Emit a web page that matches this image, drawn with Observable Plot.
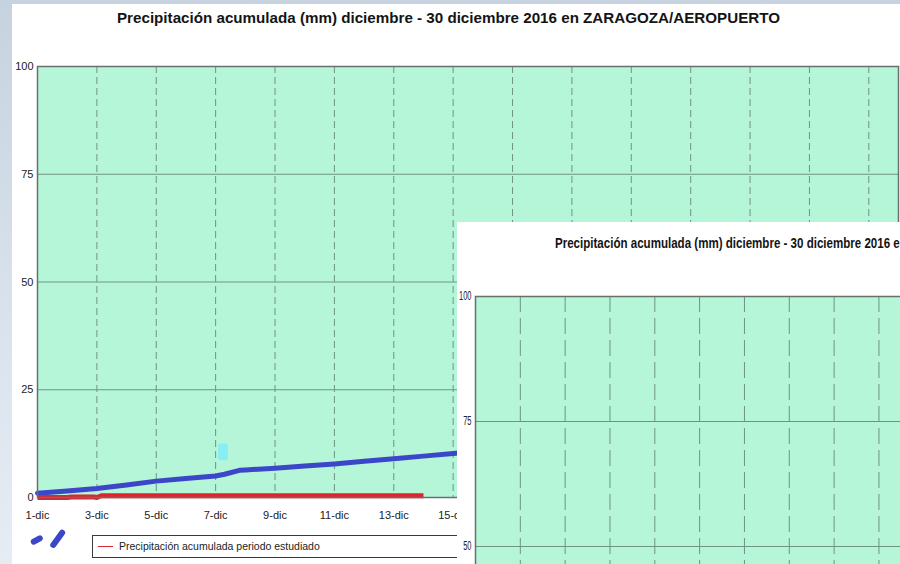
<!DOCTYPE html>
<html>
<head>
<meta charset="utf-8">
<script src="https://cdn.jsdelivr.net/npm/d3@7"></script>
<script src="https://cdn.jsdelivr.net/npm/@observablehq/plot@0.6"></script>
<style>
html, body { margin: 0; padding: 0; }
body {
  width: 900px; height: 564px; overflow: hidden; position: relative;
  background: linear-gradient(180deg, #c6d2df 0%, #d9e2ec 55%, #e6ecf3 100%);
  font-family: "Liberation Sans", Arial, sans-serif;
}
#panel { position: absolute; left: 12px; top: 4px; width: 888px; height: 560px; background: #fff; }
.title { position: absolute; white-space: nowrap; font-weight: bold; color: #141414; transform-origin: 0 50%; }
#mainTitle { left: 117px; top: 10px; font-size: 14px; }
#mainChart { position: absolute; left: 0; top: 50px; }
#legend {
  position: absolute; left: 92px; top: 535px; width: 420px; height: 21px;
  border: 1px solid #3a3a3a; background: #fff;
}
#legend .swatch { position: absolute; left: 5px; top: 10px; width: 15px; height: 0; border-top: 1.5px solid #d8262c; }
#legend .txt { position: absolute; left: 26px; top: 4px; font-size: 10.5px; color: #222; white-space: nowrap; }
#overlay { position: absolute; left: 457px; top: 222px; width: 443px; height: 342px; background: #fff; overflow: hidden; }
#ovTitle { left: 98px; top: 12px; font-size: 15px; }
#ovChart { position: absolute; left: 0; top: 0; }
</style>
</head>
<body>
<div id="panel"></div>
<div id="mainTitle" class="title"></div>
<div id="mainChart"></div>
<div id="legend"><div class="swatch"></div><div class="txt"></div></div>
<div id="overlay">
  <div id="ovTitle" class="title"></div>
  <div id="ovChart"></div>
</div>
<script>
// ---- Data ----
const titleText = "Precipitación acumulada (mm) diciembre - 30 diciembre 2016 en ZARAGOZA/AEROPUERTO";
const legendLabel = "Precipitación acumulada periodo estudiado";

const xDomain = [1, 30];
const tickDays = [1, 3, 5, 7, 9, 11, 13, 15, 17, 19, 21, 23, 25, 27, 29];
const xTickLabels = ["1-dic", "3-dic", "5-dic", "7-dic", "9-dic", "11-dic", "13-dic", "15-dic",
                     "17-dic", "19-dic", "21-dic", "23-dic", "25-dic", "27-dic", "29-dic"];
const gridDays = [3, 5, 7, 9, 11, 13, 15, 17, 19, 21, 23, 25, 27, 29];
const yTicks = [0, 25, 50, 75, 100];
const yGrid = [25, 50, 75];

// blue (hand-drawn) accumulated line
const blueDays   = [1,   2,   3,   4,   5,   6,   7,   7.3, 7.8, 8,   9,   10,  11,  12,  13,  14,  15,   15.5];
const blueValues = [1.0, 1.5, 2.1, 2.9, 3.8, 4.4, 5.0, 5.4, 6.3, 6.4, 6.8, 7.3, 7.8, 8.4, 9.0, 9.6, 10.2, 10.5];

// red: accumulated precipitation of the studied period
const redDays   = [1, 2,   2.15, 2.9, 3.0, 3.15, 14];
const redValues = [0, 0,   0.1,  0.1, 0,   0.4,  0.4];

// hand-drawn annotations (cyan patch, two blue strokes below the axis), in day / mm units
const patchDay = [7.1, 7.43];
const patchMm = [8.5, 12.4];
const strokeA = {days: [0.875, 1.077], mm: [-10.25, -9.47]};
const strokeB = {days: [1.53, 1.83], mm: [-11.0, -8.17]};

// ---- Styling ----
const mint = "#b5f6d9";
const gridColor = "#6f9384";
const blueColor = "#3b47c8";
const redColor = "#e3222b";

const blueData = blueDays.map((d, i) => ({day: d, mm: blueValues[i]}));
const redData = redDays.map((d, i) => ({day: d, mm: redValues[i]}));
const strokeData = [strokeA, strokeB].flatMap((s, k) => s.days.map((d, i) => ({k, day: d, mm: s.mm[i]})));
const patchData = [{x1: patchDay[0], x2: patchDay[1], y1: patchMm[0], y2: patchMm[1]}];
const fmt = d => xTickLabels[tickDays.indexOf(d)];

function makeChart(o) {
  const svg = Plot.plot({
    width: o.width, height: o.height,
    marginLeft: o.ml, marginRight: o.mr, marginTop: o.mt, marginBottom: o.mb,
    style: {fontFamily: '"Liberation Sans", Arial, sans-serif', fontSize: o.fs, color: "#222", background: "transparent", overflow: "visible"},
    x: {domain: xDomain, ticks: tickDays, tickFormat: fmt, tickSize: 0, tickPadding: o.xpad, label: null},
    y: {domain: [0, 100], ticks: yTicks, tickSize: 0, tickPadding: o.ypad, label: null},
    marks: [
      Plot.frame({fill: mint, stroke: "none"}),
      Plot.ruleY(yGrid, {stroke: gridColor, strokeWidth: 1}),
      Plot.ruleX(gridDays, {stroke: gridColor, strokeWidth: 1, strokeDasharray: o.dash}),
      o.annot ? Plot.rect(patchData, {x1: "x1", x2: "x2", y1: "y1", y2: "y2", fill: "#86eef4", rx: 2}) : null,
      Plot.line(blueData, {x: "day", y: "mm", stroke: blueColor, strokeWidth: 5, strokeLinecap: "round"}),
      Plot.line(redData, {x: "day", y: "mm", stroke: redColor, strokeWidth: 5, strokeLinecap: "butt"}),
      Plot.frame({stroke: "#6a6f6c", strokeWidth: 1.5}),
      o.annot ? Plot.line(strokeData, {x: "day", y: "mm", z: "k", stroke: blueColor, strokeWidth: 6, strokeLinecap: "round"}) : null
    ]
  });
  svg.style.maxWidth = "none";
  return svg;
}

document.getElementById("mainChart").append(makeChart({
  width: 900, height: 477, ml: 37, mr: 2, mt: 16, mb: 30, fs: "11px", xpad: 14, ypad: 4, dash: "7,4", annot: true
}));
const ov = makeChart({
  width: 670, height: 604, ml: 18, mr: 2, mt: 74, mb: 30, fs: "12px", xpad: 12, ypad: 4, dash: "16,6", annot: false
});
document.getElementById("ovChart").append(ov);
// condensed look of the overlay's tick labels
d3.select(ov).selectAll("text").each(function() {
  const t = this;
  if (yTicks.map(String).includes(t.textContent.trim())) {
    const w = t.getComputedTextLength();
    t.setAttribute("textLength", (w * 0.62).toFixed(1));
    t.setAttribute("lengthAdjust", "spacingAndGlyphs");
  }
});

// titles & legend text
function fitTitle(id, target) {
  const el = document.getElementById(id);
  el.textContent = titleText;
  const w = el.getBoundingClientRect().width;
  el.style.transform = `scaleX(${target / w})`;
}
fitTitle("mainTitle", 663);
fitTitle("ovTitle", 505);
document.querySelector("#legend .txt").textContent = legendLabel;
</script>
</body>
</html>
